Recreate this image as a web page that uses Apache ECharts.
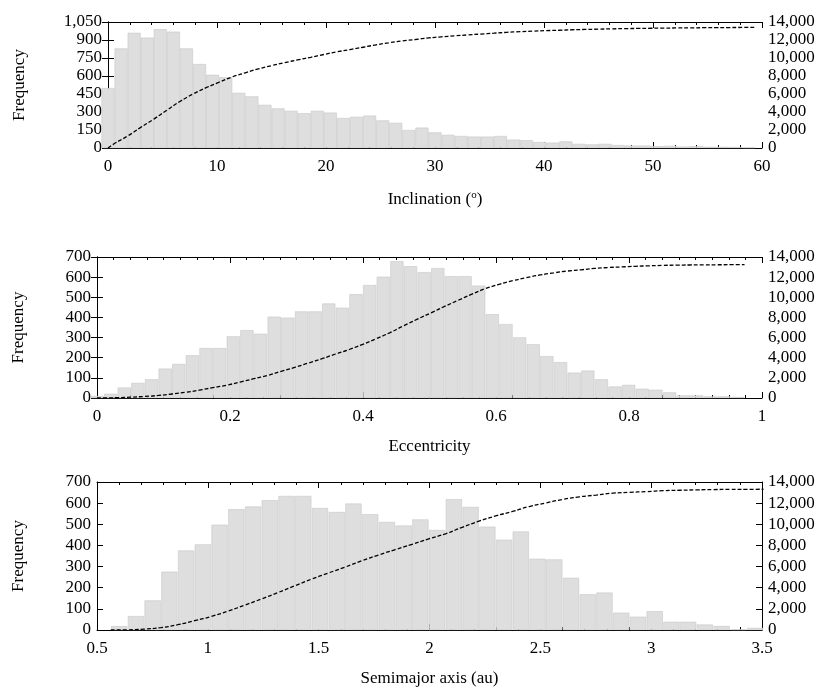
<!DOCTYPE html>
<html><head><meta charset="utf-8">
<script src="https://cdn.jsdelivr.net/npm/echarts@6/dist/echarts.min.js"></script>
<style>html,body{margin:0;background:#fff}#c{width:830px;height:692px}</style>
</head><body><div id="c"></div>
<script>
const incStart = 0, incStep = 1.2;
const incFreq = [500,830,960,920,990,970,830,700,610,590,460,430,360,330,310,290,310,295,250,260,270,230,210,150,170,130,110,100,95,95,100,70,65,50,45,55,35,30,35,25,20,20,15,18,12,15,10,10,8,5];
const eccStart = 0, eccStep = 0.0205;
const eccFreq = [10,21,52,75,93,146,169,212,248,248,306,337,319,404,399,430,430,469,448,515,561,602,679,654,625,645,605,605,558,416,367,301,267,208,178,126,136,93,57,65,46,41,28,13,13,8,8,5];
const smaStart = 0.6, smaStep = 0.0755;
const smaFreq = [18,66,140,276,376,405,498,571,584,614,634,634,577,558,598,548,511,494,523,473,619,582,489,427,466,337,334,247,169,177,82,63,89,39,39,26,19,3,10];
const leftTicks = [[0,1050,150],[0,700,100],[0,700,100]];
const xRanges = [[0,60,10],[0,1,0.2],[0.5,3.5,0.5]];
const rightTicks = [0,14000,2000];
const names = ['Inclination','Eccentricity','Semimajor axis (au)'];

const font = 'Liberation Serif';
const tops = [22,257,482], heights = [126,141,148], lefts = [108,97,97];
const sets = [[incStart,incStep,incFreq,13],[eccStart,eccStep,eccFreq,13.2],[smaStart,smaStep,smaFreq,16.2]];
const grid=[],xAxis=[],yAxis=[],series=[];
sets.forEach((s,i)=>{
  grid.push({left:lefts[i],right:68,top:tops[i],height:heights[i]});
  const [mn,mx,iv]=xRanges[i];
  const base={gridIndex:i,type:'value',min:mn,max:mx,interval:iv,
    axisLine:{onZero:false,lineStyle:{color:'#000',width:1}},
    axisTick:{inside:true,length:6,lineStyle:{color:'#000'}},
    minorTick:{show:true,splitNumber:i==1?8:(i==0?5:5),length:3,lineStyle:{color:'#000'}},
    splitLine:{show:false}};
  xAxis.push(Object.assign({},base,{position:'bottom',
    axisLabel:{color:'#000',fontFamily:font,fontSize:17,margin:10},
    name: i==0?'{n|Inclination (}{s|o}{n|)}':names[i], nameLocation:'middle', nameGap:i==0?42:40,
    nameTextStyle:{color:'#000',fontFamily:font,fontSize:17,rich:{n:{fontFamily:font,fontSize:17,color:'#000'},s:{fontFamily:font,fontSize:11,color:'#000',verticalAlign:'top',padding:[0,0,8,0]}}}}));
  xAxis.push(Object.assign({},base,{position:'top',axisLabel:{show:false}}));
  const [ymn,ymx,yiv]=leftTicks[i];
  yAxis.push({gridIndex:i,type:'value',min:ymn,max:ymx,interval:yiv,position:'left',
    axisLine:{show:true,lineStyle:{color:'#000'}},axisTick:{show:true,inside:true,length:6,lineStyle:{color:'#000'}},
    splitLine:{show:false},axisLabel:{color:'#000',fontFamily:font,fontSize:17,margin:6},
    name:'Frequency',nameLocation:'middle',nameGap:i==0?80:70,nameRotate:90,
    nameTextStyle:{color:'#000',fontFamily:font,fontSize:17}});
  yAxis.push({gridIndex:i,type:'value',min:rightTicks[0],max:rightTicks[1],interval:rightTicks[2],position:'right',
    axisLine:{show:true,lineStyle:{color:'#000'}},axisTick:{show:true,inside:true,length:6,lineStyle:{color:'#000'}},
    splitLine:{show:false},axisLabel:{color:'#000',fontFamily:font,fontSize:17,margin:6}});
  const [st,stp,fr,bw]=s;
  const bars=fr.map((v,k)=>[st+k*stp,v]);
  let c=0; const cum=fr.map((v,k)=>{c+=v;return [st+k*stp+stp/2,c];});
  cum.unshift([st-stp/2<xRanges[i][0]?xRanges[i][0]:st-stp/2,0]);
  series.push({type:'bar',xAxisIndex:2*i,yAxisIndex:2*i,data:bars,barWidth:bw,clip:true,silent:true,
    itemStyle:{color:'#dedede',borderColor:'#c8c8c8',borderWidth:0.6}});
  series.push({type:'line',xAxisIndex:2*i,yAxisIndex:2*i+1,data:cum,smooth:true,showSymbol:false,silent:true,
    lineStyle:{color:'#000',width:1.3,type:[4,2]},z:5});
});
const ch=echarts.init(document.getElementById('c'));
ch.setOption({animation:false,grid,xAxis,yAxis,series});
</script></body></html>
